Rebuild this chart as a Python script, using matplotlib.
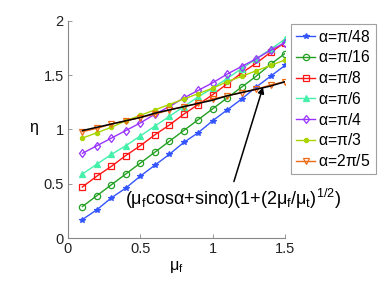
import matplotlib
matplotlib.use("Agg")
import matplotlib.pyplot as plt

plt.rcParams['font.family'] = ['Liberation Sans', 'DejaVu Sans']
plt.rcParams['mathtext.fontset'] = 'custom'
plt.rcParams['mathtext.rm'] = 'Liberation Sans'
plt.rcParams['mathtext.it'] = 'Liberation Sans'
plt.rcParams['mathtext.bf'] = 'Liberation Sans:bold'

mu_f = [0.1, 0.2, 0.3, 0.4, 0.5, 0.6, 0.7, 0.8, 0.9, 1.0, 1.1, 1.2, 1.3, 1.4, 1.5]

eta_pi48 = [0.17, 0.26, 0.37, 0.46, 0.57, 0.67, 0.77, 0.88, 0.97, 1.08, 1.18, 1.28, 1.39, 1.49, 1.59]
eta_pi16 = [0.29, 0.39, 0.49, 0.59, 0.69, 0.79, 0.89, 0.99, 1.09, 1.19, 1.29, 1.39, 1.49, 1.60, 1.70]
eta_pi8 = [0.47, 0.57, 0.66, 0.76, 0.85, 0.95, 1.04, 1.14, 1.23, 1.32, 1.42, 1.52, 1.61, 1.71, 1.80]
eta_pi6 = [0.59, 0.68, 0.77, 0.85, 0.94, 1.03, 1.12, 1.21, 1.30, 1.38, 1.47, 1.56, 1.65, 1.74, 1.83]
eta_pi4 = [0.78, 0.85, 0.92, 0.99, 1.06, 1.14, 1.21, 1.29, 1.36, 1.43, 1.51, 1.58, 1.65, 1.73, 1.80]
eta_pi3 = [0.92, 0.97, 1.02, 1.08, 1.13, 1.18, 1.23, 1.28, 1.33, 1.38, 1.44, 1.49, 1.54, 1.59, 1.64]
eta_2pi5 = [0.98, 1.01, 1.05, 1.08, 1.11, 1.14, 1.18, 1.21, 1.24, 1.28, 1.31, 1.34, 1.37, 1.41, 1.44]
eta_formula = [0.99, 1.02, 1.05, 1.08, 1.11, 1.15, 1.18, 1.21, 1.24, 1.27, 1.31, 1.34, 1.37, 1.40, 1.44]

labels = [r'$\alpha$=$\pi$/48', r'$\alpha$=$\pi$/16', r'$\alpha$=$\pi$/8', r'$\alpha$=$\pi$/6',
          r'$\alpha$=$\pi$/4', r'$\alpha$=$\pi$/3', r'$\alpha$=2$\pi$/5']
series = [eta_pi48, eta_pi16, eta_pi8, eta_pi6, eta_pi4, eta_pi3, eta_2pi5]
colors = ['#3355ff', '#22a022', '#ff1515', '#44f0aa', '#9933ff', '#aad400', '#ee6a15']
markers = ['*', 'o', 's', '^', 'd', '.', 'v']
fills = [True, False, False, True, False, True, False]
msizes = [4, 4.5, 4, 4.5, 4.5, 6, 4.5]

fig = plt.figure(figsize=(3.88, 2.83), dpi=100)
ax = fig.add_axes([0.175, 0.159, 0.5595, 0.767])

for y, lab, c, m, f, ms in zip(series, labels, colors, markers, fills, msizes):
    ax.plot(mu_f, y, color=c, marker=m, ms=ms, lw=1, label=lab,
            markerfacecolor=(c if f else 'none'), markeredgecolor=c, markeredgewidth=0.9)

ax.plot(mu_f, eta_formula, color='k', lw=1.1)

ax.set_xlim(0, 1.5)
ax.set_ylim(0, 2)
ax.set_xticks([0, 0.5, 1, 1.5])
ax.set_xticklabels(['0', '0.5', '1', '1.5'])
ax.set_yticks([0, 0.5, 1, 1.5, 2])
ax.set_yticklabels(['0', '0.5', '1', '1.5', '2'])
ax.tick_params(direction='in', length=3, colors='#222222', labelsize=10.5, width=0.6, pad=3)
ax.tick_params(axis='both', color='#888888')
for s in ['top', 'right']:
    ax.spines[s].set_visible(False)
for s in ['left', 'bottom']:
    ax.spines[s].set_color('#888888')
    ax.spines[s].set_linewidth(0.8)

ax.set_xlabel(r'$\mu_f$', fontsize=11.5, labelpad=2)
ax.set_ylabel(r'$\eta$', fontsize=11.5, rotation=0, labelpad=7, va='center')

ax.annotate('', xy=(1.348, 1.39), xytext=(1.147, 0.52),
            arrowprops=dict(arrowstyle='-|>', color='k', lw=1.1, mutation_scale=9,
                            shrinkA=0, shrinkB=0))
ax.text(0.395, 0.30, r'$(\mu_f\mathrm{cos}\alpha{+}\mathrm{sin}\alpha)(1{+}(2\mu_f/\mu_t)^{1/2})$',
        fontsize=13, ha='left', va='baseline')

leg = ax.legend(loc='upper left', bbox_to_anchor=(0.75, 0.915), bbox_transform=fig.transFigure,
                fontsize=11.3, frameon=True, fancybox=False, handlelength=1.25, handletextpad=0.2,
                labelspacing=0.3, borderpad=0.3, borderaxespad=0)
leg.get_frame().set_edgecolor('#888888')
leg.get_frame().set_linewidth(0.8)

fig.savefig('out.png', dpi=100)
